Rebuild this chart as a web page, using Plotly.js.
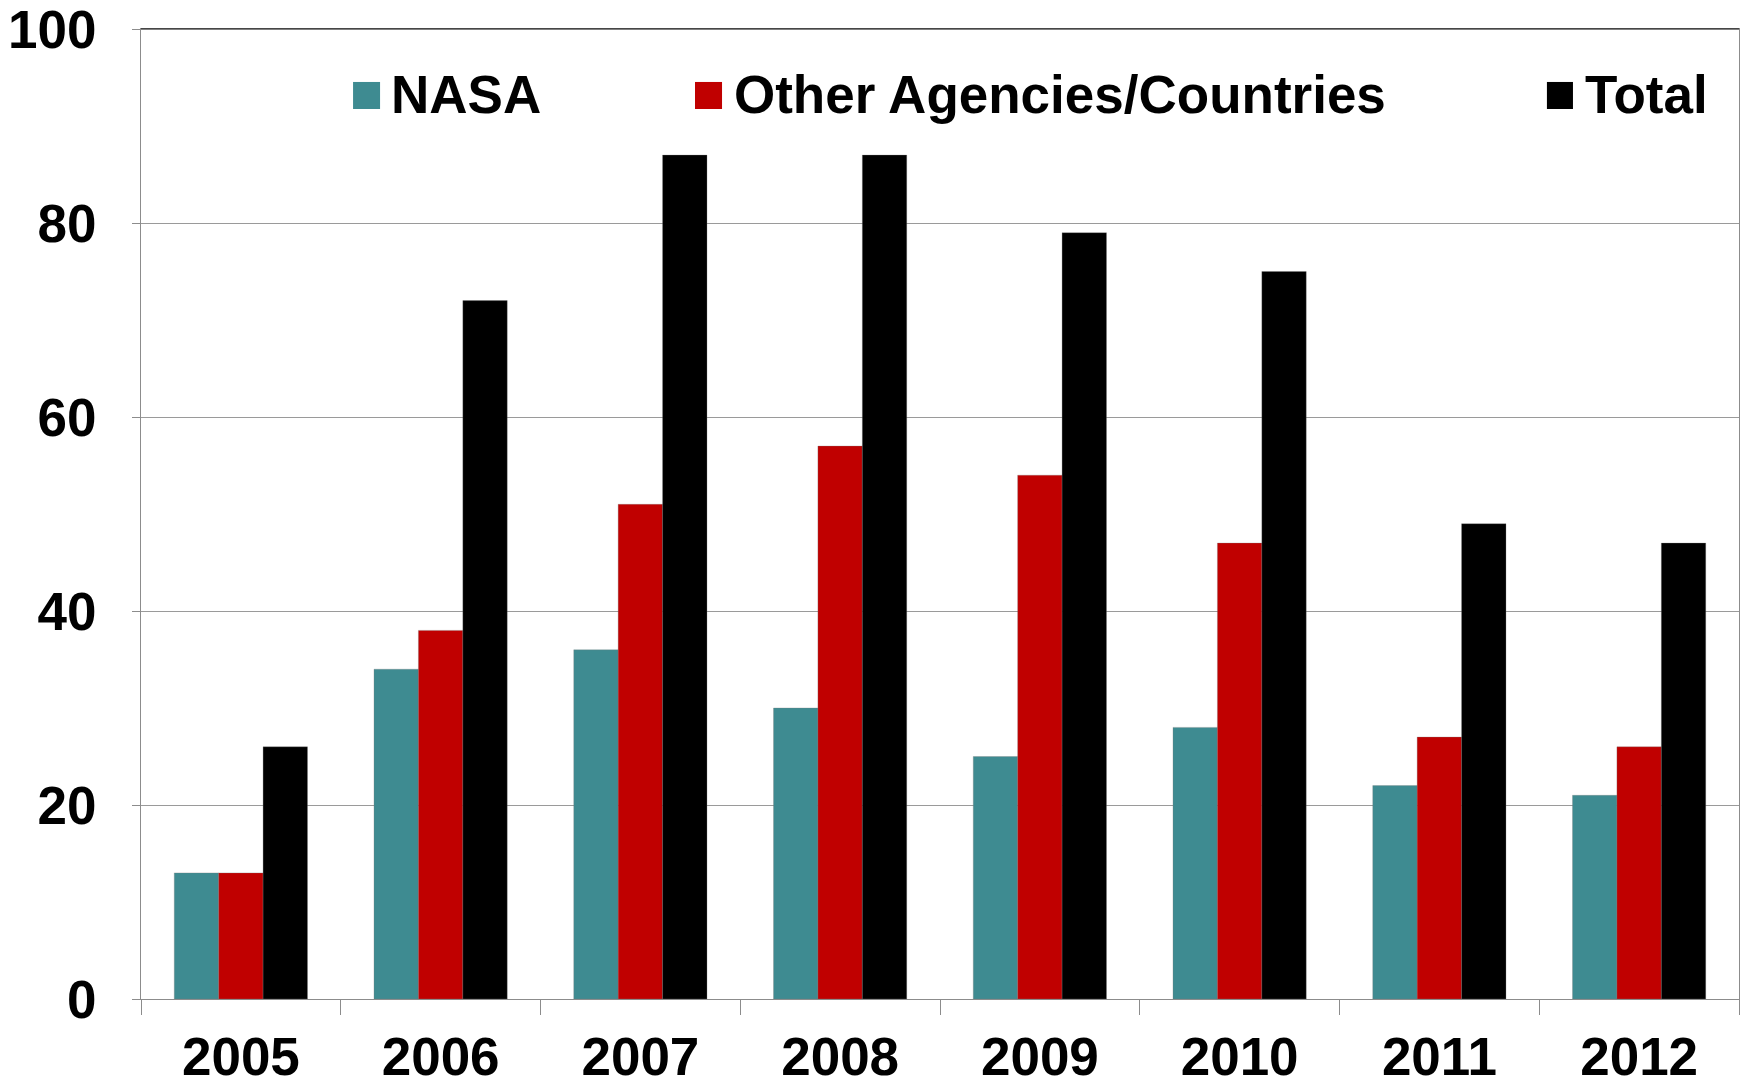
<!DOCTYPE html>
<html>
<head>
<meta charset="utf-8">
<script src="https://cdn.plot.ly/plotly-3.0.1.min.js"></script>
<style>
html,body{margin:0;padding:0;background:#fff;}
#chart{width:1742px;height:1085px;}
</style>
</head>
<body>
<div id="chart"></div>
<script>
// Data
var years = ["2005","2006","2007","2008","2009","2010","2011","2012"];
var nasa = [13, 34, 36, 30, 25, 28, 22, 21];
var other = [13, 38, 51, 57, 54, 47, 27, 26];
var total = [26, 72, 87, 87, 79, 75, 49, 47];
var seriesNames = ["NASA", "Other Agencies/Countries", "Total"];
var yTicks = [0, 20, 40, 60, 80, 100];

var colors = ["#3E8B91", "#C00000", "#000000"];
var seriesValues = [nasa, other, total];

var FONT = "Liberation Sans, Arial, Helvetica, sans-serif";
var FS = 53;

var traces = seriesValues.map(function(vals, i){
  return {
    type: "bar",
    x: years,
    y: vals,
    name: seriesNames[i],
    marker: {color: colors[i], line: {color: "rgba(120,120,120,0.6)", width: 0.5}},
    showlegend: false,
    hoverinfo: "x+y+name"
  };
});

// Manual legend (large squares), positions in paper fractions
var legSq = [[0.1327, 0.1496], [0.3467, 0.3636], [0.8798, 0.8961]];
var legTx = [0.1555, 0.3701, 0.9025];
var shapes = [];
var annotations = [];
seriesNames.forEach(function(n, i){
  shapes.push({type: "rect", xref: "paper", yref: "paper",
    x0: legSq[i][0], x1: legSq[i][1], y0: 0.9175, y1: 0.9454,
    fillcolor: colors[i], line: {width: 0}});
  annotations.push({xref: "paper", yref: "paper", x: legTx[i], y: 0.9325,
    xanchor: "left", yanchor: "middle", text: n, showarrow: false,
    font: {family: FONT, size: FS, color: "#000", weight: "bold"}});
});
// black top border
shapes.push({type: "line", xref: "paper", yref: "paper", x0: 0, x1: 1, y0: 1, y1: 1,
  line: {color: "#000", width: 1.2}});

var layout = {
  width: 1742, height: 1085,
  margin: {l: 141, r: 3, t: 29, b: 86, pad: 0},
  paper_bgcolor: "#fff", plot_bgcolor: "#fff",
  barmode: "group",
  bargap: 0.333, bargroupgap: 0,
  showlegend: false,
  font: {family: FONT, size: FS, color: "#000", weight: "bold"},
  xaxis: {
    type: "category",
    tickson: "boundaries",
    ticks: "outside", ticklen: 15, tickcolor: "#8c8c8c", tickwidth: 1,
    showline: true, linecolor: "#8c8c8c", linewidth: 1, mirror: true,
    showgrid: false, zeroline: false,
    tickfont: {family: FONT, size: FS, color: "#000", weight: "bold"},
    ticklabelstandoff: 11,
    ticklabeloverflow: "allow"
  },
  yaxis: {
    range: [0, 100],
    tickvals: yTicks,
    ticktext: yTicks.map(String),
    ticks: "outside", ticklen: 8, tickcolor: "#8c8c8c", tickwidth: 1,
    showline: true, linecolor: "#8c8c8c", linewidth: 1, mirror: true,
    showgrid: true, gridcolor: "#9a9a9a", gridwidth: 1,
    zeroline: false,
    tickfont: {family: FONT, size: FS, color: "#000", weight: "bold"},
    ticklabelstandoff: 25,
    ticklabeloverflow: "allow"
  },
  shapes: shapes,
  annotations: annotations
};

Plotly.newPlot("chart", traces, layout, {displayModeBar: false, staticPlot: true});
</script>
</body>
</html>
